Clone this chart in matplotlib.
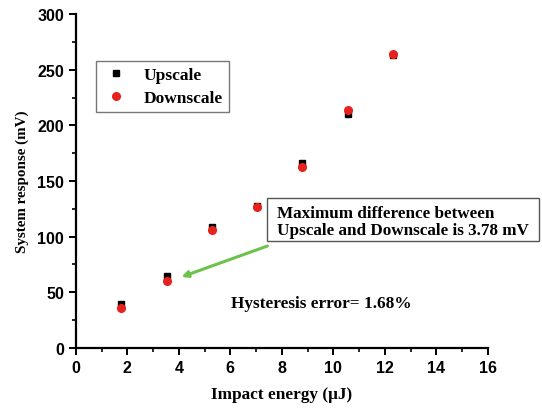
import numpy as np
import matplotlib
matplotlib.use('Agg')
import matplotlib.pyplot as plt
from matplotlib.ticker import MultipleLocator
from matplotlib.patches import Rectangle

# impact energy (uJ) and responses (mV)
energy = [1.76, 3.52, 5.28, 7.04, 8.8, 10.56, 12.32]
upscale = [39.5, 64.5, 108.5, 128, 166.5, 210.5, 263]
downscale = [35.5, 60.5, 106, 127, 162.5, 214, 264]

fig = plt.figure(figsize=(5.42, 4.10), dpi=100)
ax = fig.add_axes([0.140, 0.149, 0.760, 0.814])

ax.plot(energy, upscale, 's', color='black', markersize=5, label='Upscale', zorder=3)
ax.plot(energy, downscale, 'o', color='#e8201e', markersize=5.5, label='Downscale', zorder=4)

ax.set_xlim(0, 16)
ax.set_ylim(0, 300)
ax.xaxis.set_major_locator(MultipleLocator(2))
ax.xaxis.set_minor_locator(MultipleLocator(1))
ax.yaxis.set_major_locator(MultipleLocator(50))
ax.yaxis.set_minor_locator(MultipleLocator(25))
for s in ['top', 'right']:
    ax.spines[s].set_visible(False)
for s in ['left', 'bottom']:
    ax.spines[s].set_linewidth(1.6)
ax.tick_params(which='major', direction='out', length=5, width=1.4)
ax.tick_params(which='minor', direction='out', length=3, width=1.2)
for lbl in ax.get_xticklabels() + ax.get_yticklabels():
    lbl.set_family('Liberation Sans')
    lbl.set_fontweight('bold')
    lbl.set_fontsize(11.5)

ax.set_xlabel('Impact energy (\u03bcJ)', family='Liberation Serif', fontweight='bold', fontsize=12.4, labelpad=8)
ax.set_ylabel('System response (mV)', family='Liberation Serif', fontweight='bold', fontsize=10.8, labelpad=6)

leg = ax.legend(loc='upper left', bbox_to_anchor=(0.048, 0.859), borderaxespad=0, fancybox=False,
                edgecolor='#555555', prop={'family': 'Liberation Serif', 'weight': 'bold', 'size': 12.5},
                handletextpad=0.8, borderpad=0.35, labelspacing=0.35, handlelength=1.6)
leg.get_frame().set_linewidth(1.0)

# annotation box (runs off the right of the axes, as in the original)
box = Rectangle((7.44, 96.1), 10.54, 38.6, fc='white', ec='#555555', lw=1.0,
                clip_on=False, zorder=5)
ax.add_patch(box)
ax.text(7.8, 113.5, 'Maximum difference between\nUpscale and Downscale is 3.78 mV',
        ha='left', va='center', fontsize=12.3, family='Liberation Serif', fontweight='bold',
        linespacing=1.1, zorder=6)
ax.annotate('', xy=(4.1, 63.8), xytext=(7.44, 91.6),
            arrowprops=dict(arrowstyle='-|>', color='#6cc24a', lw=2.2, mutation_scale=9,
                            shrinkA=0, shrinkB=0))

ax.text(6.02, 40.4, 'Hysteresis error= 1.68%', ha='left', va='center', fontsize=12.4,
        family='Liberation Serif', fontweight='bold')

fig.savefig('out.png', dpi=100)
